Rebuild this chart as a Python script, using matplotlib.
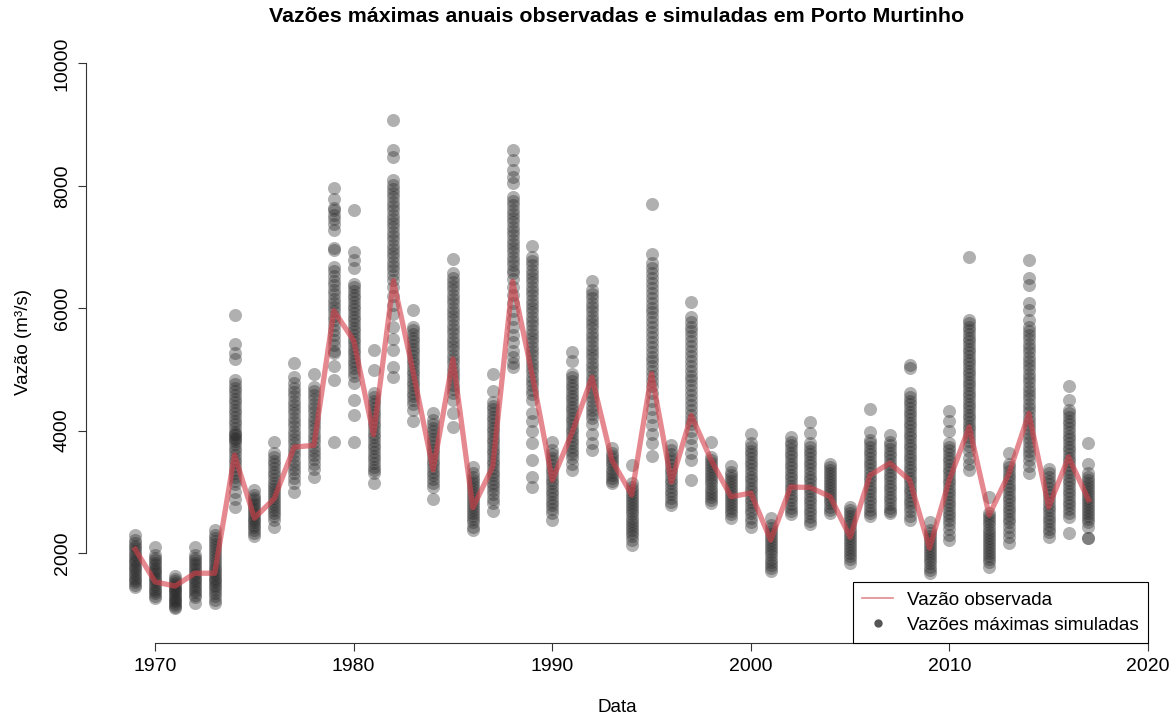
import matplotlib
matplotlib.use('Agg')
import matplotlib.pyplot as plt
from matplotlib.lines import Line2D

years = list(range(1969, 2018))

# observed annual maximum discharge (m3/s)
observed = [2060, 1530, 1460, 1670, 1670, 3600, 2570, 2890, 3730, 3760,
            5960, 5470, 3930, 6450, 4950, 3360, 5170, 2740, 3410, 6440,
            4900, 3190, 3970, 4870, 3520, 2950, 4930, 3160, 4250, 3520,
            2920, 2980, 2210, 3080, 3070, 2920, 2260, 3270, 3470, 3190,
            2080, 3200, 4060, 2620, 3300, 4280, 2750, 3570, 2870]

# simulated annual maxima, one list per year
sim_1969 = [2290, 2210, 2160, 2120, 2080, 2040, 1990, 1950, 1910, 1870, 1830, 1790, 1750, 1720, 1680, 1640, 1600, 1560, 1520, 1480, 1440]
sim_1970 = [2100, 1960, 1920, 1880, 1840, 1800, 1760, 1720, 1690, 1650, 1610, 1580, 1540, 1500, 1460, 1420, 1380, 1340, 1300, 1260]
sim_1971 = [1620, 1580, 1550, 1510, 1480, 1450, 1420, 1390, 1360, 1330, 1300, 1270, 1240, 1210, 1180, 1150, 1120, 1100]
sim_1972 = [2100, 1960, 1920, 1880, 1840, 1800, 1760, 1720, 1680, 1640, 1600, 1560, 1520, 1480, 1440, 1400, 1360, 1320, 1280, 1180]
sim_1973 = [2370, 2300, 2240, 2190, 2140, 2100, 2050, 2000, 1950, 1900, 1850, 1800, 1760, 1720, 1680, 1640, 1600, 1560, 1520, 1480, 1440, 1400, 1350, 1300, 1240, 1180]
sim_1974 = [5890, 5420, 5260, 5170, 4830, 4760, 4700, 4640, 4580, 4520, 4460, 4400, 4340, 4280, 4220, 4160, 4100, 4040, 3980, 3950, 3930, 3880, 3860, 3830, 3780, 3720, 3660, 3600, 3540, 3480, 3420, 3360, 3300, 3240, 3180, 3120, 3000, 2880, 2760]
sim_1975 = [3030, 2950, 2900, 2860, 2820, 2780, 2740, 2700, 2660, 2620, 2580, 2540, 2500, 2460, 2420, 2380, 2330, 2280]
sim_1976 = [3820, 3630, 3570, 3510, 3450, 3390, 3330, 3270, 3210, 3150, 3100, 3050, 3000, 2950, 2900, 2850, 2800, 2750, 2700, 2650, 2600, 2540, 2430]
sim_1977 = [5100, 4880, 4770, 4700, 4630, 4560, 4490, 4420, 4350, 4280, 4210, 4140, 4070, 4000, 3930, 3860, 3790, 3720, 3650, 3580, 3510, 3440, 3370, 3300, 3230, 3140, 3000]
sim_1978 = [4930, 4720, 4650, 4580, 4510, 4440, 4370, 4300, 4230, 4160, 4090, 4020, 3950, 3880, 3810, 3740, 3670, 3600, 3530, 3460, 3380, 3250]
sim_1979 = [7960, 7790, 7630, 7600, 7520, 7450, 7380, 7280, 6980, 6950, 6680, 6600, 6520, 6450, 6380, 6300, 6230, 6150, 6080, 6020, 5950, 5880, 5800, 5720, 5640, 5560, 5480, 5400, 5300, 5260, 5050, 4830, 3820]
sim_1980 = [7610, 6920, 6790, 6650, 6400, 6340, 6280, 6220, 6160, 6100, 6040, 5980, 5920, 5860, 5800, 5740, 5680, 5620, 5560, 5500, 5440, 5380, 5320, 5260, 5200, 5140, 5080, 5020, 4960, 4900, 4780, 4500, 4250, 3820]
sim_1981 = [5310, 4990, 4610, 4550, 4490, 4430, 4370, 4310, 4250, 4190, 4130, 4070, 4010, 3950, 3890, 3830, 3770, 3710, 3650, 3590, 3530, 3470, 3410, 3350, 3300, 3140]
sim_1982 = [9070, 8580, 8470, 8090, 8020, 7950, 7880, 7810, 7740, 7670, 7600, 7530, 7460, 7390, 7320, 7250, 7180, 7110, 7040, 6970, 6900, 6830, 6760, 6690, 6620, 6550, 6460, 6350, 6200, 6050, 5900, 5700, 5500, 5320, 5040, 4880]
sim_1983 = [5970, 5700, 5640, 5580, 5520, 5460, 5400, 5340, 5280, 5220, 5160, 5100, 5040, 4980, 4920, 4860, 4800, 4740, 4680, 4620, 4560, 4500, 4440, 4340, 4150]
sim_1984 = [4280, 4170, 4110, 4050, 3990, 3930, 3870, 3810, 3750, 3690, 3630, 3570, 3510, 3450, 3390, 3330, 3270, 3210, 3150, 3080, 2890]
sim_1985 = [6810, 6570, 6500, 6430, 6360, 6290, 6220, 6150, 6080, 6010, 5940, 5870, 5800, 5730, 5660, 5590, 5520, 5450, 5380, 5310, 5240, 5170, 5100, 5030, 4960, 4890, 4820, 4750, 4680, 4610, 4500, 4280, 4060]
sim_1986 = [3410, 3300, 3250, 3200, 3150, 3100, 3050, 3000, 2950, 2900, 2850, 2800, 2750, 2700, 2650, 2600, 2550, 2500, 2430, 2380]
sim_1987 = [4930, 4640, 4470, 4410, 4350, 4290, 4230, 4170, 4110, 4050, 3990, 3930, 3870, 3810, 3750, 3690, 3630, 3570, 3510, 3450, 3390, 3330, 3270, 3210, 3150, 3090, 3030, 2960, 2880, 2810, 2680]
sim_1988 = [8590, 8420, 8260, 8150, 8040, 7820, 7750, 7680, 7610, 7540, 7470, 7400, 7330, 7260, 7190, 7120, 7050, 6980, 6910, 6840, 6770, 6700, 6630, 6570, 6480, 6350, 6220, 6090, 5960, 5830, 5700, 5570, 5440, 5300, 5200, 5100, 5040]
sim_1989 = [7010, 6840, 6770, 6700, 6630, 6560, 6490, 6420, 6350, 6280, 6210, 6140, 6070, 6000, 5930, 5860, 5790, 5720, 5650, 5580, 5510, 5440, 5370, 5300, 5230, 5160, 5090, 5020, 4950, 4880, 4810, 4740, 4670, 4600, 4500, 4280, 4150, 4000, 3800, 3520, 3250, 3080]
sim_1990 = [3820, 3680, 3620, 3560, 3500, 3440, 3380, 3320, 3260, 3200, 3140, 3080, 3020, 2960, 2900, 2840, 2780, 2720, 2650, 2540]
sim_1991 = [5290, 5130, 4930, 4870, 4810, 4750, 4690, 4630, 4570, 4510, 4450, 4390, 4330, 4270, 4210, 4150, 4090, 4030, 3970, 3910, 3850, 3790, 3730, 3670, 3610, 3550, 3460, 3360]
sim_1992 = [6440, 6300, 6230, 6160, 6090, 6020, 5950, 5880, 5810, 5740, 5670, 5600, 5530, 5460, 5390, 5320, 5250, 5180, 5110, 5040, 4970, 4900, 4830, 4760, 4690, 4620, 4550, 4480, 4410, 4340, 4270, 4200, 4100, 3950, 3800, 3680]
sim_1993 = [3710, 3630, 3580, 3530, 3480, 3430, 3380, 3330, 3280, 3230, 3180, 3140]
sim_1994 = [3440, 3140, 3080, 3030, 2980, 2930, 2880, 2830, 2780, 2730, 2680, 2630, 2580, 2530, 2480, 2430, 2380, 2330, 2280, 2220, 2130]
sim_1995 = [7700, 6880, 6730, 6650, 6570, 6490, 6410, 6330, 6250, 6170, 6090, 6010, 5930, 5850, 5770, 5690, 5610, 5530, 5450, 5370, 5290, 5210, 5130, 5050, 4970, 4890, 4810, 4730, 4610, 4480, 4350, 4220, 4090, 3950, 3800, 3580]
sim_1996 = [3760, 3680, 3620, 3560, 3500, 3440, 3380, 3320, 3260, 3200, 3140, 3080, 3020, 2960, 2900, 2840, 2790]
sim_1997 = [6100, 5860, 5780, 5700, 5620, 5540, 5460, 5380, 5300, 5220, 5140, 5060, 4980, 4900, 4820, 4740, 4660, 4580, 4500, 4420, 4340, 4260, 4180, 4100, 4000, 3880, 3760, 3640, 3520, 3190]
sim_1998 = [3820, 3570, 3520, 3470, 3420, 3370, 3320, 3270, 3220, 3170, 3120, 3070, 3020, 2970, 2920, 2870, 2810]
sim_1999 = [3420, 3330, 3280, 3230, 3180, 3130, 3080, 3030, 2980, 2930, 2880, 2830, 2780, 2730, 2680, 2630, 2580]
sim_2000 = [3940, 3790, 3730, 3670, 3610, 3550, 3490, 3430, 3370, 3310, 3250, 3190, 3130, 3070, 3010, 2950, 2890, 2830, 2770, 2710, 2650, 2580, 2510, 2430]
sim_2001 = [2570, 2460, 2410, 2360, 2310, 2260, 2210, 2160, 2110, 2060, 2010, 1960, 1910, 1860, 1810, 1760, 1700]
sim_2002 = [3900, 3820, 3760, 3700, 3640, 3580, 3520, 3460, 3400, 3340, 3280, 3220, 3160, 3100, 3040, 2980, 2920, 2860, 2800, 2740, 2680, 2630]
sim_2003 = [4140, 3960, 3790, 3730, 3670, 3610, 3550, 3490, 3430, 3370, 3310, 3250, 3190, 3130, 3070, 3010, 2950, 2890, 2830, 2770, 2710, 2650, 2590, 2520, 2480]
sim_2004 = [3460, 3410, 3360, 3310, 3260, 3210, 3160, 3110, 3060, 3010, 2960, 2910, 2860, 2810, 2760, 2710, 2650]
sim_2005 = [2760, 2700, 2650, 2600, 2550, 2500, 2450, 2400, 2350, 2300, 2250, 2200, 2150, 2100, 2050, 2000, 1950, 1900, 1840]
sim_2006 = [4350, 3980, 3850, 3790, 3730, 3670, 3610, 3550, 3490, 3430, 3370, 3310, 3250, 3190, 3130, 3070, 3010, 2950, 2890, 2830, 2770, 2710, 2650, 2600]
sim_2007 = [3930, 3820, 3760, 3700, 3640, 3580, 3520, 3460, 3400, 3340, 3280, 3220, 3160, 3100, 3040, 2980, 2920, 2860, 2800, 2740, 2690, 2650]
sim_2008 = [5070, 5020, 4610, 4550, 4490, 4430, 4370, 4310, 4250, 4190, 4130, 4070, 4010, 3950, 3890, 3830, 3770, 3710, 3650, 3590, 3530, 3470, 3410, 3350, 3290, 3230, 3170, 3110, 3050, 2990, 2930, 2870, 2810, 2750, 2680, 2610, 2540]
sim_2009 = [2510, 2380, 2330, 2280, 2230, 2180, 2130, 2080, 2030, 1980, 1930, 1880, 1830, 1780, 1730, 1680]
sim_2010 = [4320, 4160, 3990, 3800, 3740, 3680, 3620, 3560, 3500, 3440, 3380, 3320, 3260, 3200, 3140, 3080, 3020, 2960, 2900, 2840, 2780, 2720, 2660, 2600, 2540, 2480, 2400, 2300, 2220]
sim_2011 = [6840, 5810, 5760, 5700, 5640, 5580, 5520, 5460, 5400, 5340, 5280, 5220, 5160, 5100, 5040, 4980, 4920, 4860, 4800, 4740, 4680, 4620, 4560, 4500, 4440, 4380, 4320, 4260, 4200, 4140, 4080, 4020, 3960, 3900, 3830, 3750, 3660, 3560, 3460, 3360]
sim_2012 = [2920, 2650, 2600, 2550, 2500, 2450, 2400, 2350, 2300, 2250, 2200, 2150, 2100, 2050, 2000, 1950, 1900, 1850, 1780]
sim_2013 = [3630, 3460, 3400, 3340, 3280, 3220, 3160, 3100, 3040, 2980, 2920, 2860, 2800, 2740, 2680, 2620, 2560, 2500, 2430, 2350, 2260, 2160]
sim_2014 = [6790, 6490, 6380, 6080, 5970, 5810, 5700, 5630, 5560, 5490, 5420, 5350, 5280, 5210, 5140, 5070, 5000, 4930, 4860, 4790, 4720, 4650, 4580, 4510, 4440, 4370, 4300, 4230, 4160, 4090, 4020, 3950, 3880, 3810, 3740, 3670, 3600, 3520, 3420, 3300]
sim_2015 = [3380, 3300, 3240, 3180, 3120, 3060, 3000, 2940, 2880, 2820, 2760, 2700, 2640, 2580, 2520, 2460, 2400, 2340, 2270]
sim_2016 = [4730, 4500, 4340, 4280, 4220, 4160, 4100, 4040, 3980, 3920, 3860, 3800, 3740, 3680, 3620, 3560, 3500, 3440, 3380, 3320, 3260, 3200, 3140, 3080, 3020, 2960, 2900, 2840, 2780, 2720, 2650, 2590, 2320]
sim_2017 = [3800, 3460, 3300, 3250, 3200, 3150, 3100, 3050, 3000, 2950, 2900, 2850, 2800, 2750, 2700, 2650, 2600, 2550, 2500, 2430, 2240, 2240]

simulated = [sim_1969, sim_1970, sim_1971, sim_1972, sim_1973, sim_1974, sim_1975,
             sim_1976, sim_1977, sim_1978, sim_1979, sim_1980, sim_1981, sim_1982,
             sim_1983, sim_1984, sim_1985, sim_1986, sim_1987, sim_1988, sim_1989,
             sim_1990, sim_1991, sim_1992, sim_1993, sim_1994, sim_1995, sim_1996,
             sim_1997, sim_1998, sim_1999, sim_2000, sim_2001, sim_2002, sim_2003,
             sim_2004, sim_2005, sim_2006, sim_2007, sim_2008, sim_2009, sim_2010,
             sim_2011, sim_2012, sim_2013, sim_2014, sim_2015, sim_2016, sim_2017]

x_ticks = [1970, 1980, 1990, 2000, 2010, 2020]
y_ticks = [2000, 4000, 6000, 8000, 10000]

plt.rcParams['font.family'] = ['Liberation Sans', 'DejaVu Sans']

fig = plt.figure(figsize=(11.75, 7.2), dpi=100)
ax = fig.add_axes([0.0732, 0.107, 0.9038, 0.836])

xs, ys = [], []
for yr, vals in zip(years, simulated):
    xs += [yr] * len(vals)
    ys += vals
ax.scatter(xs, ys, s=88, color='#2a2a2a', alpha=0.37, linewidths=0, zorder=2)

ax.plot(years, observed, color='#d6404a', alpha=0.62, lw=3.8, zorder=3)

ax.set_xlim(1966.52, 2020.0)
ax.set_ylim(531, 10364)
ax.set_xticks(x_ticks)
ax.set_yticks(y_ticks)
ax.set_yticklabels([str(v) for v in y_ticks], rotation=90, va='center')

for side in ['top', 'right']:
    ax.spines[side].set_visible(False)
ax.spines['bottom'].set_bounds(1970, 2020)
ax.spines['left'].set_bounds(2000, 10000)
for side in ['bottom', 'left']:
    ax.spines[side].set_color('#333333')
    ax.spines[side].set_linewidth(0.8)
ax.tick_params(axis='both', length=6, width=0.8, color='#333333', labelsize=14, pad=5)

ax.set_title('Vazões máximas anuais observadas e simuladas em Porto Murtinho',
             fontsize=15.4, fontweight='bold', pad=14)
ax.set_xlabel('Data', fontsize=13.5, labelpad=17)
ax.set_ylabel('Vazão (m³/s)', fontsize=13.5, labelpad=16)

handles = [Line2D([], [], color='#e08a8e', lw=1.2),
           Line2D([], [], color='#555555', marker='o', ms=5, ls='none')]
leg = ax.legend(handles, ['Vazão observada', 'Vazões máximas simuladas'],
                loc='lower right', bbox_to_anchor=(1.0, 0.0), borderaxespad=0,
                fancybox=False, framealpha=1, edgecolor='black', fontsize=13.6,
                handlelength=1.6, handletextpad=0.75, borderpad=0.5,
                labelspacing=0.4)
leg.get_frame().set_linewidth(0.8)

fig.savefig('out.png', dpi=100)
